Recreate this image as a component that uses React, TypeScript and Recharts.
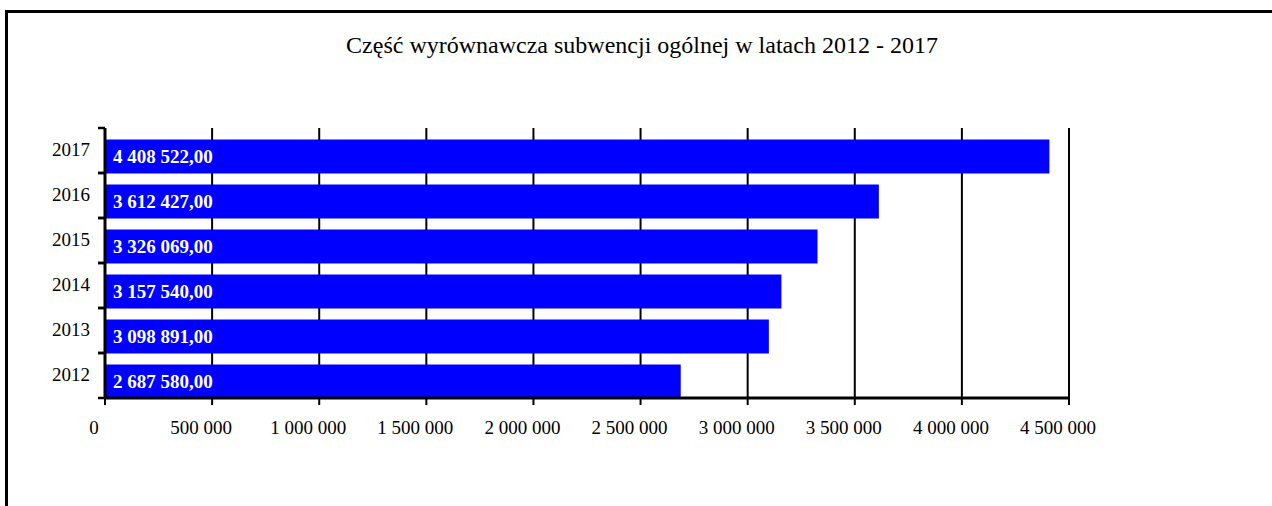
import React from "react";
import { BarChart, Bar, XAxis, YAxis, CartesianGrid, LabelList } from "recharts";

const years = ["2012", "2013", "2014", "2015", "2016", "2017"];
const amounts = [2687580, 3098891, 3157540, 3326069, 3612427, 4408522];
const xTicks = [0, 500000, 1000000, 1500000, 2000000, 2500000, 3000000, 3500000, 4000000, 4500000];
const title = "Część wyrównawcza subwencji ogólnej w latach 2012 - 2017";

const data = years.map((y, i) => ({ year: y, value: amounts[i] }));

const FONT = "'Liberation Serif', 'Times New Roman', serif";

const groupThousands = (n: number) => {
  const s = Math.round(n).toString();
  return s.replace(/\B(?=(\d{3})+(?!\d))/g, " ");
};
const fmtAmount = (n: number) => groupThousands(n) + ",00";

const XTick = (props: any) => {
  const { x, y, payload } = props;
  return (
    <text x={x - 11} y={y + 27} textAnchor="middle" fontFamily={FONT} fontSize={19} fill="#000">
      {groupThousands(payload.value)}
    </text>
  );
};

const YTick = (props: any) => {
  const { x, y, payload } = props;
  const half = payload && payload.offset ? payload.offset : 22.5;
  return (
    <g>
      <line x1={x - 7} x2={x} y1={y - half} y2={y - half} stroke="#000" strokeWidth={2.5} />
      <line x1={x - 7} x2={x} y1={y + half} y2={y + half} stroke="#000" strokeWidth={2.5} />
      <text x={x - 15} y={y - 1} dy="0.33em" textAnchor="end" fontFamily={FONT} fontSize={19} fill="#000">
        {payload.value}
      </text>
    </g>
  );
};

const BarShape = (props: any) => {
  const { x, y, width, height, fill } = props;
  return <rect x={x} y={y + 5.5} width={width} height={height} fill={fill} />;
};

const BarLabel = (props: any) => {
  const { x, y, height, value } = props;
  return (
    <text
      x={x + 8}
      y={y + 5.5 + height / 2}
      dy="0.35em"
      fontFamily={FONT}
      fontWeight="bold"
      fontSize={19}
      fill="#fff"
    >
      {fmtAmount(value)}
    </text>
  );
};

export default function App() {
  return (
    <div style={{ position: "absolute", left: 0, top: 0, width: 1272, height: 506, background: "#fff", overflow: "hidden" }}>
      <div
        style={{
          position: "absolute",
          left: 5,
          top: 10,
          width: 1300,
          height: 600,
          borderLeft: "3px solid #000",
          borderTop: "3px solid #000",
        }}
      />
      <div
        style={{
          position: "absolute",
          left: 0,
          width: 1284,
          top: 30,
          textAlign: "center",
          fontFamily: FONT,
          fontSize: 24,
          lineHeight: "30px",
          color: "#000",
        }}
      >
        {title}
      </div>
      <div style={{ position: "absolute", left: 0, top: 0 }}>
        <BarChart
          width={1272}
          height={506}
          data={data}
          layout="vertical"
          margin={{ top: 128, right: 203, bottom: 68, left: 0 }}
          barSize={34}
        >
          <CartesianGrid horizontal={false} vertical={true} stroke="#000" strokeWidth={2} />
          <XAxis
            type="number"
            domain={[0, 4500000]}
            ticks={xTicks}
            interval={0}
            height={40}
            axisLine={{ stroke: "#000", strokeWidth: 3 }}
            tickLine={{ stroke: "#000", strokeWidth: 2 }}
            tickSize={7}
            tick={<XTick />}
          />
          <YAxis
            type="category"
            dataKey="year"
            reversed
            width={105}
            axisLine={{ stroke: "#000", strokeWidth: 3 }}
            tickLine={false}
            tickSize={0}
            tickMargin={0}
            interval={0}
            tick={<YTick />}
          />
          <Bar dataKey="value" fill="#0000FF" isAnimationActive={false} shape={<BarShape />}>
            <LabelList dataKey="value" content={<BarLabel />} />
          </Bar>
        </BarChart>
      </div>
    </div>
  );
}
